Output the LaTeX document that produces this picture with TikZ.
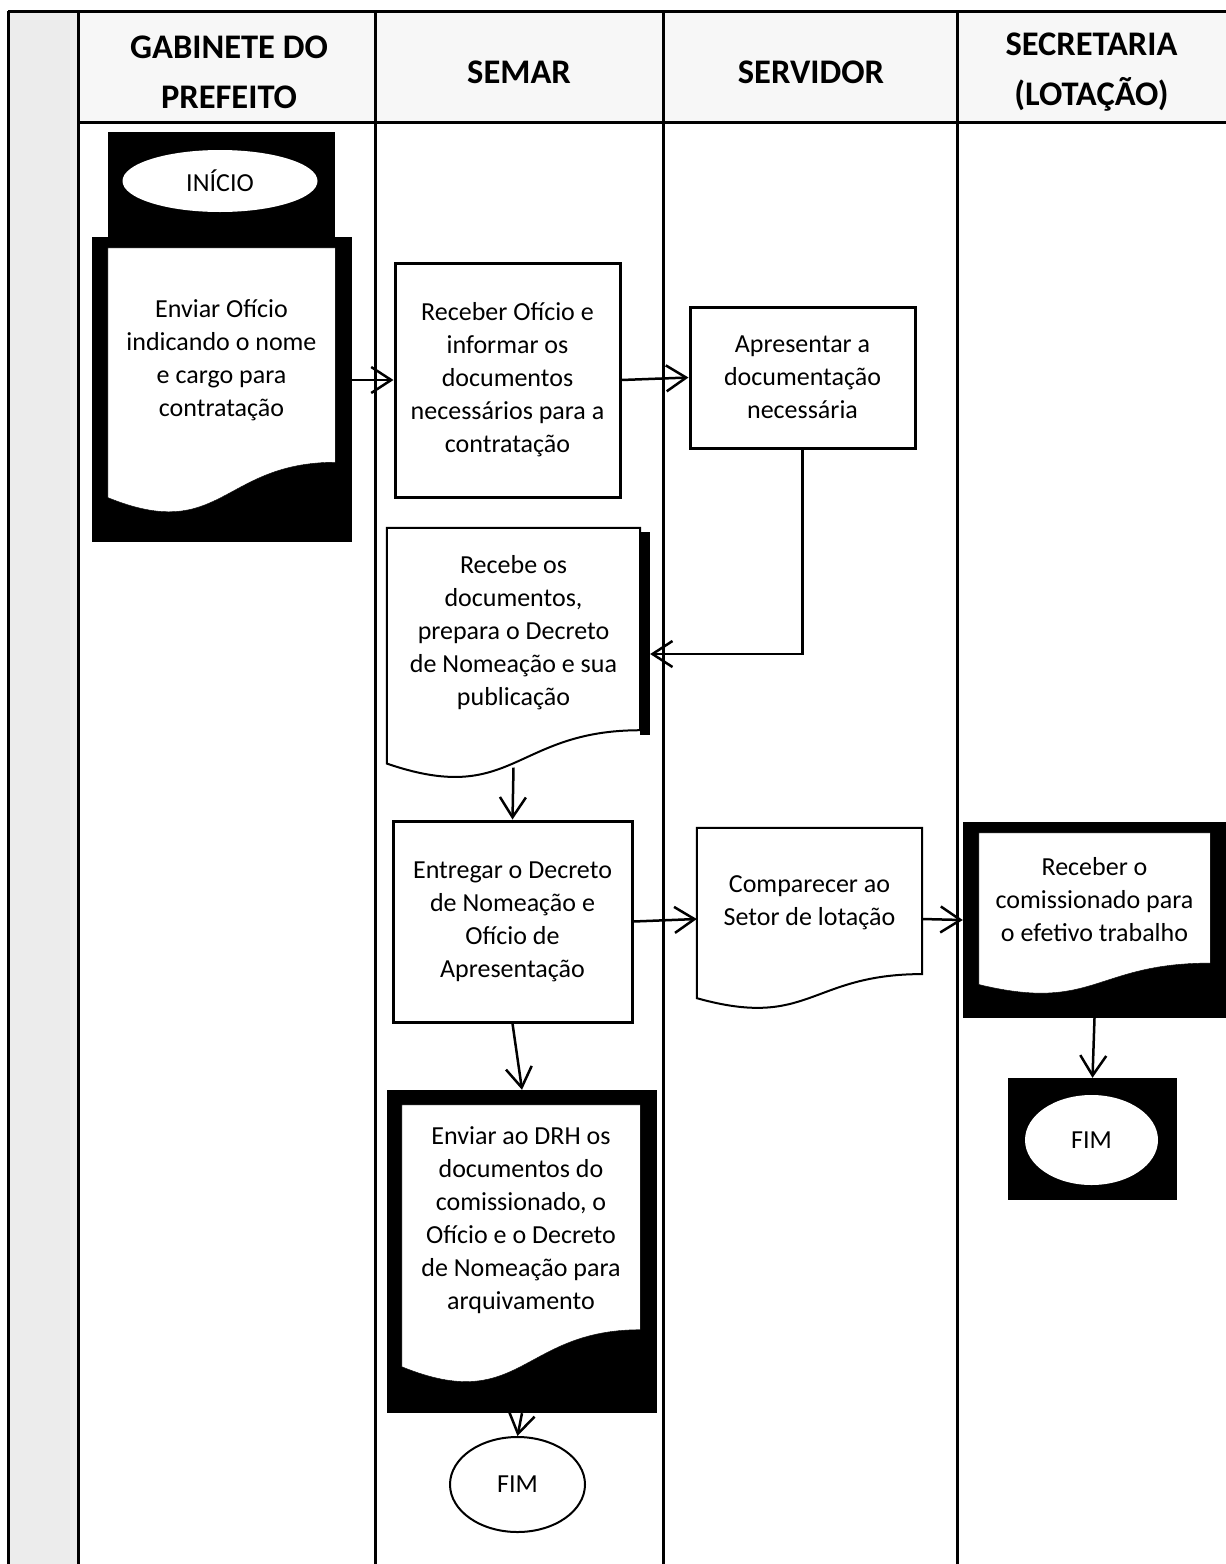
\documentclass[tikz,border=0pt]{standalone}
\usepackage{fontspec}
\setmainfont{Carlito}
\usetikzlibrary{arrows.meta, calc, shapes.geometric}

% document symbol drawn round a named box node
\newcommand{\docshape}[2]{%
  \draw[#1] (#2.north west) -- (#2.north east)
    -- ($(#2.south east)!0.198!(#2.north east)$)
    .. controls ($(#2.south)!0.198!(#2.north)$) and ($(#2.south)!-0.107!(#2.north)$)
    .. ($(#2.south west)!0.066!(#2.north west)$) -- cycle;}

\begin{document}
\begin{tikzpicture}[x=1pt, y=-1pt,
    lane/.style={line width=3pt},
    head/.style={align=center, font=\fontsize{34.5}{50}\selectfont\bfseries, inner sep=0},
    txt/.style={align=center, font=\fontsize{26}{33}\selectfont, inner sep=0},
    procbox/.style={txt, rectangle, draw, line width=3pt, fill=white},
    docbox/.style={rectangle, inner sep=0},
    blackbg/.style={rectangle, fill=black, inner sep=0},
    term/.style={txt, ellipse, fill=white},
    flow/.style={line width=2.5pt, -{Straight Barb[length=20pt, width=26pt, line width=2.5pt]}}]
    \useasboundingbox (0,0) rectangle (1226,1564);

    % Define the lanes and their headers
    \fill[gray!15] (8,11) rectangle (78,1564);
    \fill[gray!6] (78,11) rectangle (1226,122);
    \draw[lane] (8,11) -- (1226,11);
    \draw[lane] (78,122) -- (1226,122);
    \foreach \x in {8, 78, 375, 663, 957}
        \draw[lane] (\x,11) -- (\x,1564);

    \node[head] (h-gab) at (229,72) {GABINETE DO\\PREFEITO};
    \node[head] (h-semar) at (519,72) {SEMAR};
    \node[head] (h-serv) at (811,72) {SERVIDOR};
    \node[head] (h-sec) at (1091.5,72) {SECRETARIA\\(LOTAÇÃO)};

    % Gabinete do Prefeito
    \node[blackbg, minimum width=227, minimum height=105] (inicio-bg) at (221.5,184.5) {};
    \node[term, minimum width=195, minimum height=62] (inicio) at (220,181) {INÍCIO};

    \node[blackbg, minimum width=260, minimum height=305] (enviar-bg) at (222,389.5) {};
    \node[docbox, minimum width=227, minimum height=267] (enviar) at (221.5,381.5) {};
    \docshape{fill=white}{enviar}
    \node[txt] (enviar-txt) at ($(enviar.north)!0.42!(enviar.south)$)
        {Enviar Ofício\\indicando o nome\\e cargo para\\contratação};

    % SEMAR
    \node[procbox, minimum width=225, minimum height=234] (receber) at (507.5,380)
        {Receber Ofício e\\informar os\\documentos\\necessários para a\\contratação};

    \fill (640,532) rectangle (650,735);
    \node[docbox, minimum width=253, minimum height=252] (recebe) at (513.5,654) {};
    \docshape{fill=white, line width=2pt}{recebe}
    \node[txt] (recebe-txt) at ($(recebe.north)!0.417!(recebe.south)$)
        {Recebe os\\documentos,\\prepara o Decreto\\de Nomeação e sua\\publicação};

    \node[procbox, minimum width=239, minimum height=201] (entregar) at (512.5,921.5)
        {Entregar o Decreto\\de Nomeação e\\Ofício de\\Apresentação};

    \node[blackbg, minimum width=270, minimum height=323] (drh-bg) at (522,1251.5) {};
    \node[docbox, minimum width=238, minimum height=280] (drh) at (521,1245) {};
    \docshape{fill=white}{drh}
    \node[txt] (drh-txt) at ($(drh.north)!0.41!(drh.south)$)
        {Enviar ao DRH os\\documentos do\\comissionado, o\\Ofício e o Decreto\\de Nomeação para\\arquivamento};

    \node[term, draw, line width=2pt, minimum width=135, minimum height=95] (fim1) at (517.5,1484.5) {FIM};

    % Servidor
    \node[procbox, minimum width=225, minimum height=141] (apres) at (802.5,377.5)
        {Apresentar a\\documentação\\necessária};

    \node[docbox, minimum width=225, minimum height=182] (compar) at (809.5,919) {};
    \docshape{fill=white, line width=2pt}{compar}
    \node[txt] (compar-txt) at ($(compar.north)!0.41!(compar.south)$)
        {Comparecer ao\\Setor de lotação};

    % Secretaria (lotacao)
    \node[blackbg, minimum width=263, minimum height=196] (comiss-bg) at (1094.5,920) {};
    \node[docbox, minimum width=231, minimum height=162] (comiss) at (1094.5,914) {};
    \docshape{fill=white}{comiss}
    \node[txt] (comiss-txt) at ($(comiss.north)!0.41!(comiss.south)$)
        {Receber o\\comissionado para\\o efetivo trabalho};

    \node[blackbg, minimum width=169, minimum height=122] (fim2-bg) at (1092.5,1139) {};
    \node[term, minimum width=133, minimum height=90] (fim2) at (1091.5,1140) {FIM};

    % Draw the flow between the steps
    \draw[flow] (enviar-bg.east |- receber.west) -- (receber.west);
    \draw[flow] (receber.east) -- (apres.west);
    \draw[flow] (apres.south) |- ([xshift=10pt]recebe.east);
    \draw[flow] ($(recebe.south)!0.05!(recebe.north)$) -- (entregar.north);
    \draw[flow] (entregar.east) -- (compar.west);
    \draw[flow] (compar.east) -- (comiss-bg.west);
    \draw[flow] (entregar.south) -- (drh-bg.north);
    \draw[flow] (drh-bg.south) -- (fim1.north);
    \draw[flow] (comiss-bg.south) -- (fim2-bg.north);
\end{tikzpicture}
\end{document}
